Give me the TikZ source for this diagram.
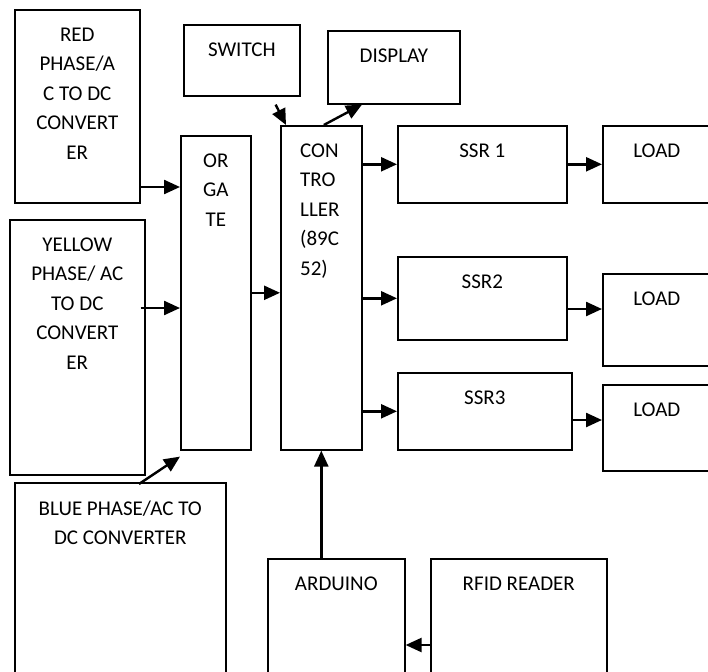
\documentclass[tikz,border=0pt]{standalone}
\usepackage{fontspec}
\setmainfont{Carlito}
\usetikzlibrary{arrows.meta,positioning,calc}

\begin{document}
\begin{tikzpicture}[x=1pt,y=-1pt,
  font=\fontsize{21}{29.5}\selectfont,
  blk/.style={draw, line width=1.6pt, inner sep=0pt, anchor=north west},
  lbl/.style={anchor=north, inner sep=0pt, yshift=-18.5pt, align=center},
  arr/.style={-{Triangle[length=16pt,width=14pt]}, line width=2.4pt}]
\useasboundingbox (0,0) rectangle (708,671);
% supply side: three phase converters and the OR gate
\node[blk, minimum width=125pt, minimum height=193pt, label={[lbl]north:RED\\PHASE/A\\C TO DC\\CONVERT\\ER}] (red) at (14,9) {};
\node[blk, minimum width=135pt, minimum height=255pt, label={[lbl]north:YELLOW\\PHASE/ AC\\TO DC\\CONVERT\\ER}] (yellow) at (9,219) {};
\node[blk, minimum width=211pt, minimum height=193pt, label={[lbl]north:BLUE PHASE/AC TO\\DC CONVERTER}] (blue) at (14,482) {};
\node[blk, minimum width=70pt, minimum height=314pt, label={[lbl]north:OR\\GA\\TE}] (or) at (180,135) {};

% controller with switch and display
\node[blk, minimum width=116pt, minimum height=71pt, label={[lbl]north:SWITCH}] (switch) at (183,24) {};
\node[blk, minimum width=132pt, minimum height=73pt, label={[lbl]north:DISPLAY}] (display) at (327,30) {};
\node[blk, minimum width=81pt, minimum height=324pt, label={[lbl, anchor=north west, align=left, xshift=20pt]north west:CON\\TRO\\LLER\\(89C\\52)}] (ctrl) at (280,125) {};

% relays and loads
\node[blk, minimum width=169pt, minimum height=77pt, label={[lbl]north:SSR 1}] (ssr1) at (397,125) {};
\node[blk, minimum width=169pt, minimum height=83pt, label={[lbl]north:SSR2}] (ssr2) at (397,256) {};
\node[blk, minimum width=174pt, minimum height=77pt, label={[lbl]north:SSR3}] (ssr3) at (397,372) {};
\node[blk, minimum width=108pt, minimum height=77pt, label={[lbl]north:LOAD}] (load1) at (602,125) {};
\node[blk, minimum width=108pt, minimum height=92pt, label={[lbl]north:LOAD}] (load2) at (602,273) {};
\node[blk, minimum width=108pt, minimum height=86pt, label={[lbl]north:LOAD}] (load3) at (602,384) {};

% RFID access path
\node[blk, minimum width=137pt, minimum height=117pt, label={[lbl]north:ARDUINO}] (ardu) at (267,558) {};
\node[blk, minimum width=176pt, minimum height=117pt, label={[lbl]north:RFID READER}] (rfid) at (430,558) {};

% connections
\draw[arr] (red.east |- 0,187) -- (or.west |- 0,187);
\draw[arr] ([xshift=-5pt]yellow.east |- 0,308) -- (or.west |- 0,308);
\draw[arr] ([xshift=125pt,yshift=-2pt]blue.north west) -- ([yshift=-6pt]or.south west);
\draw[arr] (or.east) -- (ctrl.west |- or.east);
\draw[arr] ([xshift=-25pt,yshift=-8pt]switch.south east) -- ([xshift=6pt]ctrl.north west);
\draw[arr] ([xshift=2.5pt]ctrl.north) -- ([xshift=35pt]display.south west);
\draw[arr] (ctrl.east |- ssr1.west) -- (ssr1.west);
\draw[arr] (ctrl.east |- ssr2.west) -- (ssr2.west);
\draw[arr] (ctrl.east |- ssr3.west) -- (ssr3.west);
\draw[arr] (ssr1.east |- load1.west) -- (load1.west);
\draw[arr] (ssr2.east |- 0,309) -- (load2.west |- 0,309);
\draw[arr] (ssr3.east |- 0,420) -- (load3.west |- 0,420);
\draw[arr] (ctrl.south |- ardu.north) -- (ctrl.south);
\draw[arr] (rfid.west |- 0,645) -- (ardu.east |- 0,645);
\end{tikzpicture}
\end{document}
